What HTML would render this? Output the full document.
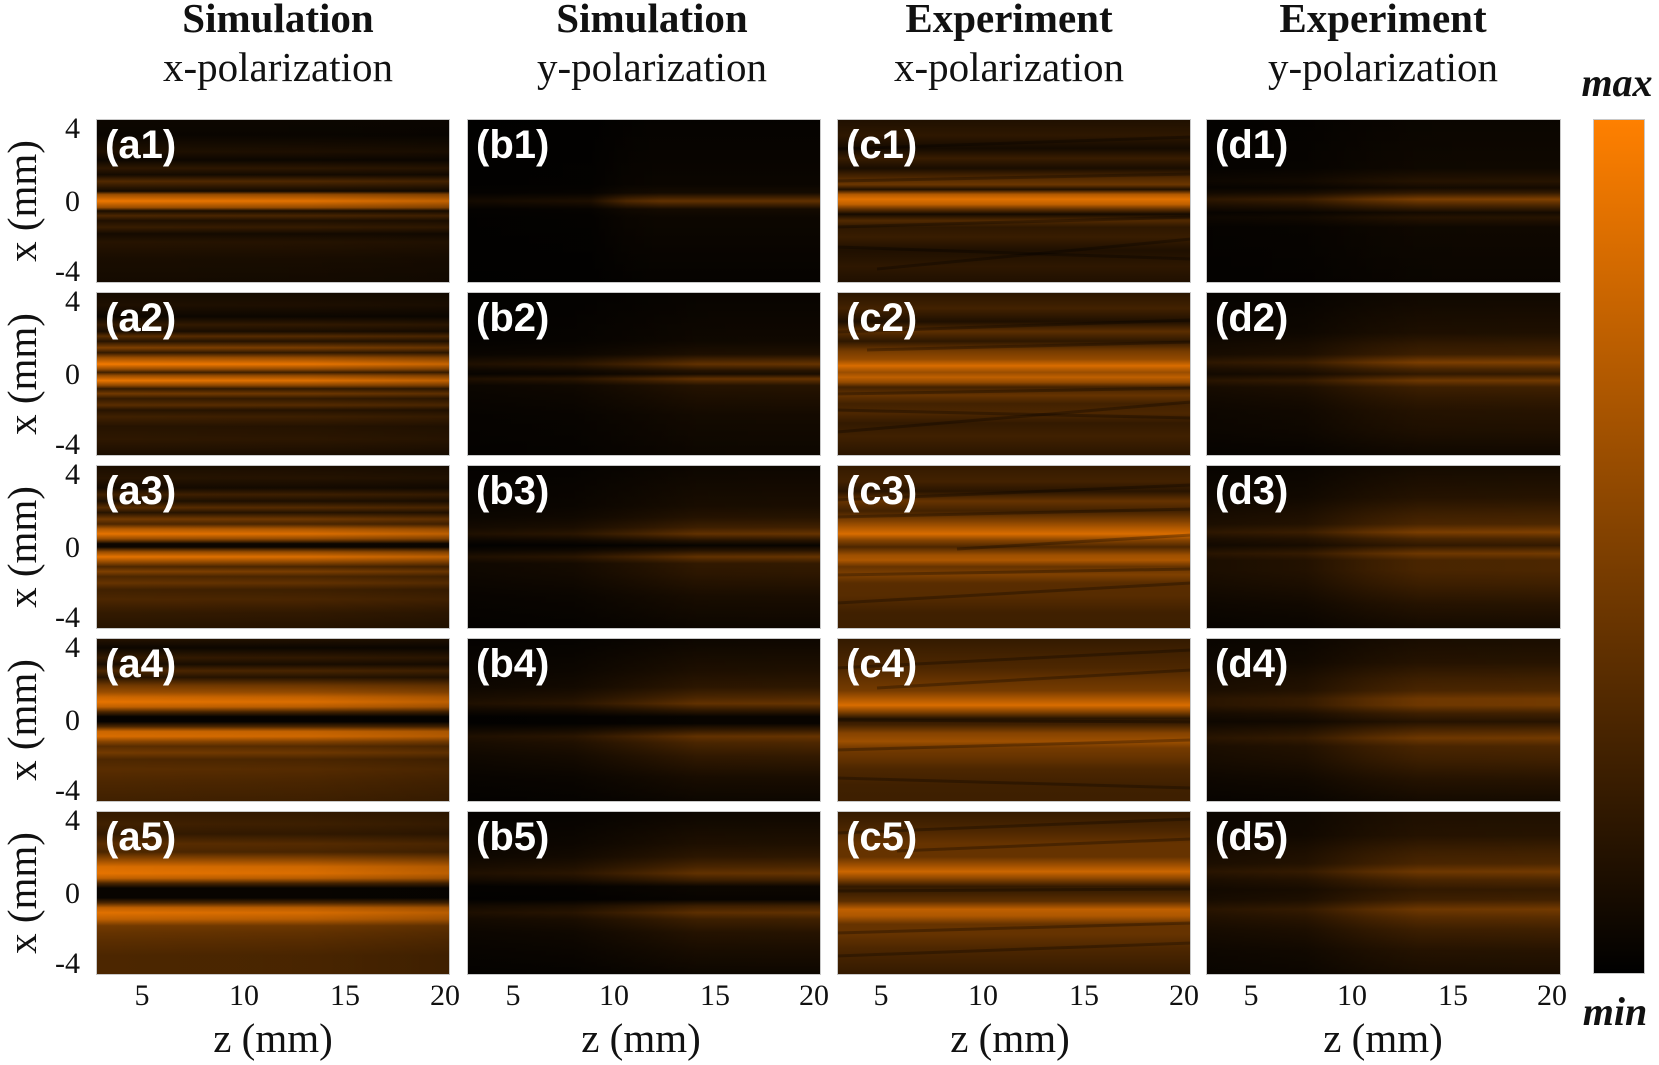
<!DOCTYPE html>
<html><head><meta charset="utf-8"><style>
html,body{margin:0;padding:0;background:#fff;}
svg{display:block;}
stop{stop-color:#ff8000}
.k stop{stop-color:#000}
.tb{font-family:"Liberation Serif",serif;font-weight:bold;font-size:41px;text-anchor:middle;fill:#111}
.tr{font-family:"Liberation Serif",serif;font-size:41px;text-anchor:middle;fill:#111}
.yl{font-family:"Liberation Serif",serif;font-size:41px;text-anchor:middle;fill:#111}
.tk{font-family:"Liberation Serif",serif;font-size:30px;fill:#111}
.te{text-anchor:end}
.tm{text-anchor:middle}
.pl{font-family:"Liberation Sans",sans-serif;font-weight:bold;font-size:40px;fill:#fff}
.mm{font-family:"Liberation Serif",serif;font-weight:bold;font-style:italic;font-size:40px;text-anchor:middle;fill:#111}
.st line{stroke:#000;stroke-opacity:.28;stroke-width:3}
</style></head><body>
<svg width="1659" height="1065" viewBox="0 0 1659 1065" xmlns="http://www.w3.org/2000/svg">
<defs>
<linearGradient id="a1" x1="0" y1="0" x2="0" y2="1">
<stop offset="0" stop-opacity=".05"/><stop offset=".1" stop-opacity=".04"/><stop offset=".2" stop-opacity=".12"/><stop offset=".25" stop-opacity=".05"/><stop offset=".3" stop-opacity=".18"/><stop offset=".34" stop-opacity=".08"/><stop offset=".38" stop-opacity=".32"/><stop offset=".42" stop-opacity=".15"/><stop offset=".44" stop-opacity=".08"/><stop offset=".46" stop-opacity=".6"/><stop offset=".5" stop-opacity=".93"/><stop offset=".54" stop-opacity=".6"/><stop offset=".56" stop-opacity=".1"/><stop offset=".59" stop-opacity=".3"/><stop offset=".62" stop-opacity=".12"/><stop offset=".66" stop-opacity=".22"/><stop offset=".7" stop-opacity=".08"/><stop offset=".75" stop-opacity=".15"/><stop offset=".85" stop-opacity=".1"/><stop offset="1" stop-opacity=".08"/>
</linearGradient>
<linearGradient id="a2" x1="0" y1="0" x2="0" y2="1">
<stop offset="0" stop-opacity=".08"/><stop offset=".08" stop-opacity=".12"/><stop offset=".15" stop-opacity=".05"/><stop offset=".2" stop-opacity=".2"/><stop offset=".24" stop-opacity=".1"/><stop offset=".27" stop-opacity=".35"/><stop offset=".3" stop-opacity=".15"/><stop offset=".34" stop-opacity=".5"/><stop offset=".37" stop-opacity=".2"/><stop offset=".4" stop-opacity=".6"/><stop offset=".44" stop-opacity=".95"/><stop offset=".47" stop-opacity=".6"/><stop offset=".49" stop-opacity=".25"/><stop offset=".51" stop-opacity=".6"/><stop offset=".54" stop-opacity=".92"/><stop offset=".57" stop-opacity=".55"/><stop offset=".59" stop-opacity=".2"/><stop offset=".62" stop-opacity=".45"/><stop offset=".65" stop-opacity=".2"/><stop offset=".69" stop-opacity=".35"/><stop offset=".72" stop-opacity=".15"/><stop offset=".76" stop-opacity=".25"/><stop offset=".82" stop-opacity=".15"/><stop offset=".9" stop-opacity=".18"/><stop offset="1" stop-opacity=".1"/>
</linearGradient>
<linearGradient id="a3" x1="0" y1="0" x2="0" y2="1">
<stop offset="0" stop-opacity=".1"/><stop offset=".08" stop-opacity=".15"/><stop offset=".14" stop-opacity=".08"/><stop offset=".18" stop-opacity=".25"/><stop offset=".22" stop-opacity=".12"/><stop offset=".26" stop-opacity=".35"/><stop offset=".29" stop-opacity=".15"/><stop offset=".33" stop-opacity=".45"/><stop offset=".36" stop-opacity=".3"/><stop offset=".39" stop-opacity=".7"/><stop offset=".42" stop-opacity=".9"/><stop offset=".45" stop-opacity=".6"/><stop offset=".48" stop-opacity=".05"/><stop offset=".5" stop-opacity=".05"/><stop offset=".53" stop-opacity=".6"/><stop offset=".56" stop-opacity=".9"/><stop offset=".59" stop-opacity=".6"/><stop offset=".62" stop-opacity=".3"/><stop offset=".65" stop-opacity=".5"/><stop offset=".68" stop-opacity=".3"/><stop offset=".72" stop-opacity=".4"/><stop offset=".76" stop-opacity=".25"/><stop offset=".82" stop-opacity=".3"/><stop offset=".9" stop-opacity=".2"/><stop offset="1" stop-opacity=".15"/>
</linearGradient>
<linearGradient id="a4" x1="0" y1="0" x2="0" y2="1">
<stop offset="0" stop-opacity=".15"/><stop offset=".06" stop-opacity=".05"/><stop offset=".12" stop-opacity=".2"/><stop offset=".16" stop-opacity=".1"/><stop offset=".2" stop-opacity=".3"/><stop offset=".24" stop-opacity=".15"/><stop offset=".29" stop-opacity=".45"/><stop offset=".33" stop-opacity=".6"/><stop offset=".36" stop-opacity=".8"/><stop offset=".39" stop-opacity=".9"/><stop offset=".42" stop-opacity=".75"/><stop offset=".45" stop-opacity=".3"/><stop offset=".48" stop-opacity=".02"/><stop offset=".51" stop-opacity=".02"/><stop offset=".54" stop-opacity=".3"/><stop offset=".57" stop-opacity=".8"/><stop offset=".6" stop-opacity=".85"/><stop offset=".63" stop-opacity=".55"/><stop offset=".66" stop-opacity=".35"/><stop offset=".7" stop-opacity=".45"/><stop offset=".74" stop-opacity=".3"/><stop offset=".8" stop-opacity=".35"/><stop offset=".88" stop-opacity=".3"/><stop offset="1" stop-opacity=".25"/>
</linearGradient>
<linearGradient id="a5" x1="0" y1="0" x2="0" y2="1">
<stop offset="0" stop-opacity=".2"/><stop offset=".08" stop-opacity=".25"/><stop offset=".14" stop-opacity=".2"/><stop offset=".2" stop-opacity=".35"/><stop offset=".25" stop-opacity=".3"/><stop offset=".3" stop-opacity=".6"/><stop offset=".34" stop-opacity=".85"/><stop offset=".38" stop-opacity=".9"/><stop offset=".41" stop-opacity=".75"/><stop offset=".44" stop-opacity=".3"/><stop offset=".47" stop-opacity=".03"/><stop offset=".53" stop-opacity=".03"/><stop offset=".56" stop-opacity=".3"/><stop offset=".59" stop-opacity=".75"/><stop offset=".62" stop-opacity=".88"/><stop offset=".66" stop-opacity=".75"/><stop offset=".7" stop-opacity=".45"/><stop offset=".74" stop-opacity=".4"/><stop offset=".8" stop-opacity=".35"/><stop offset=".88" stop-opacity=".3"/><stop offset="1" stop-opacity=".3"/>
</linearGradient>
<linearGradient id="b1" x1="0" y1="0" x2="0" y2="1">
<stop offset="0" stop-opacity=".02"/><stop offset=".4" stop-opacity=".04"/><stop offset=".45" stop-opacity=".08"/><stop offset=".5" stop-opacity=".38"/><stop offset=".55" stop-opacity=".08"/><stop offset=".6" stop-opacity=".05"/><stop offset="1" stop-opacity=".02"/>
</linearGradient>
<linearGradient id="b2" x1="0" y1="0" x2="0" y2="1">
<stop offset="0" stop-opacity=".03"/><stop offset=".3" stop-opacity=".06"/><stop offset=".38" stop-opacity=".12"/><stop offset=".44" stop-opacity=".4"/><stop offset=".48" stop-opacity=".15"/><stop offset=".5" stop-opacity=".1"/><stop offset=".53" stop-opacity=".4"/><stop offset=".57" stop-opacity=".15"/><stop offset=".64" stop-opacity=".12"/><stop offset=".75" stop-opacity=".08"/><stop offset="1" stop-opacity=".05"/>
</linearGradient>
<linearGradient id="b3" x1="0" y1="0" x2="0" y2="1">
<stop offset="0" stop-opacity=".05"/><stop offset=".25" stop-opacity=".1"/><stop offset=".32" stop-opacity=".15"/><stop offset=".38" stop-opacity=".25"/><stop offset=".42" stop-opacity=".4"/><stop offset=".46" stop-opacity=".15"/><stop offset=".49" stop-opacity=".03"/><stop offset=".52" stop-opacity=".15"/><stop offset=".56" stop-opacity=".4"/><stop offset=".6" stop-opacity=".2"/><stop offset=".66" stop-opacity=".18"/><stop offset=".8" stop-opacity=".1"/><stop offset="1" stop-opacity=".05"/>
</linearGradient>
<linearGradient id="b4" x1="0" y1="0" x2="0" y2="1">
<stop offset="0" stop-opacity=".05"/><stop offset=".2" stop-opacity=".12"/><stop offset=".3" stop-opacity=".18"/><stop offset=".36" stop-opacity=".3"/><stop offset=".4" stop-opacity=".4"/><stop offset=".44" stop-opacity=".2"/><stop offset=".48" stop-opacity=".03"/><stop offset=".52" stop-opacity=".03"/><stop offset=".56" stop-opacity=".2"/><stop offset=".6" stop-opacity=".4"/><stop offset=".64" stop-opacity=".3"/><stop offset=".72" stop-opacity=".2"/><stop offset=".85" stop-opacity=".1"/><stop offset="1" stop-opacity=".05"/>
</linearGradient>
<linearGradient id="b5" x1="0" y1="0" x2="0" y2="1">
<stop offset="0" stop-opacity=".05"/><stop offset=".2" stop-opacity=".12"/><stop offset=".28" stop-opacity=".18"/><stop offset=".34" stop-opacity=".3"/><stop offset=".38" stop-opacity=".4"/><stop offset=".42" stop-opacity=".25"/><stop offset=".46" stop-opacity=".05"/><stop offset=".54" stop-opacity=".03"/><stop offset=".58" stop-opacity=".25"/><stop offset=".62" stop-opacity=".38"/><stop offset=".66" stop-opacity=".25"/><stop offset=".74" stop-opacity=".15"/><stop offset=".85" stop-opacity=".1"/><stop offset="1" stop-opacity=".05"/>
</linearGradient>
<linearGradient id="c1" x1="0" y1="0" x2="0" y2="1">
<stop offset="0" stop-opacity=".12"/><stop offset=".1" stop-opacity=".18"/><stop offset=".18" stop-opacity=".08"/><stop offset=".24" stop-opacity=".22"/><stop offset=".3" stop-opacity=".1"/><stop offset=".36" stop-opacity=".32"/><stop offset=".4" stop-opacity=".42"/><stop offset=".43" stop-opacity=".12"/><stop offset=".46" stop-opacity=".7"/><stop offset=".49" stop-opacity=".88"/><stop offset=".52" stop-opacity=".75"/><stop offset=".55" stop-opacity=".38"/><stop offset=".58" stop-opacity=".08"/><stop offset=".62" stop-opacity=".32"/><stop offset=".66" stop-opacity=".18"/><stop offset=".72" stop-opacity=".22"/><stop offset=".8" stop-opacity=".12"/><stop offset=".9" stop-opacity=".18"/><stop offset="1" stop-opacity=".12"/>
</linearGradient>
<linearGradient id="c2" x1="0" y1="0" x2="0" y2="1">
<stop offset="0" stop-opacity=".16"/><stop offset=".1" stop-opacity=".26"/><stop offset=".18" stop-opacity=".12"/><stop offset=".24" stop-opacity=".36"/><stop offset=".3" stop-opacity=".18"/><stop offset=".36" stop-opacity=".46"/><stop offset=".41" stop-opacity=".58"/><stop offset=".45" stop-opacity=".85"/><stop offset=".49" stop-opacity=".6"/><stop offset=".52" stop-opacity=".75"/><stop offset=".55" stop-opacity=".58"/><stop offset=".58" stop-opacity=".26"/><stop offset=".63" stop-opacity=".4"/><stop offset=".68" stop-opacity=".26"/><stop offset=".74" stop-opacity=".3"/><stop offset=".8" stop-opacity=".2"/><stop offset=".88" stop-opacity=".25"/><stop offset="1" stop-opacity=".16"/>
</linearGradient>
<linearGradient id="c3" x1="0" y1="0" x2="0" y2="1">
<stop offset="0" stop-opacity=".2"/><stop offset=".1" stop-opacity=".26"/><stop offset=".16" stop-opacity=".16"/><stop offset=".22" stop-opacity=".4"/><stop offset=".28" stop-opacity=".26"/><stop offset=".34" stop-opacity=".5"/><stop offset=".38" stop-opacity=".68"/><stop offset=".42" stop-opacity=".85"/><stop offset=".46" stop-opacity=".52"/><stop offset=".5" stop-opacity=".3"/><stop offset=".55" stop-opacity=".62"/><stop offset=".58" stop-opacity=".68"/><stop offset=".62" stop-opacity=".4"/><stop offset=".67" stop-opacity=".5"/><stop offset=".72" stop-opacity=".35"/><stop offset=".8" stop-opacity=".34"/><stop offset=".9" stop-opacity=".25"/><stop offset="1" stop-opacity=".24"/>
</linearGradient>
<linearGradient id="c4" x1="0" y1="0" x2="0" y2="1">
<stop offset="0" stop-opacity=".2"/><stop offset=".1" stop-opacity=".26"/><stop offset=".18" stop-opacity=".3"/><stop offset=".26" stop-opacity=".4"/><stop offset=".32" stop-opacity=".46"/><stop offset=".37" stop-opacity=".68"/><stop offset=".41" stop-opacity=".85"/><stop offset=".45" stop-opacity=".52"/><stop offset=".49" stop-opacity=".16"/><stop offset=".53" stop-opacity=".26"/><stop offset=".58" stop-opacity=".52"/><stop offset=".63" stop-opacity=".62"/><stop offset=".67" stop-opacity=".46"/><stop offset=".73" stop-opacity=".4"/><stop offset=".8" stop-opacity=".3"/><stop offset=".9" stop-opacity=".25"/><stop offset="1" stop-opacity=".24"/>
</linearGradient>
<linearGradient id="c5" x1="0" y1="0" x2="0" y2="1">
<stop offset="0" stop-opacity=".2"/><stop offset=".12" stop-opacity=".3"/><stop offset=".2" stop-opacity=".4"/><stop offset=".28" stop-opacity=".4"/><stop offset=".33" stop-opacity=".62"/><stop offset=".37" stop-opacity=".8"/><stop offset=".41" stop-opacity=".56"/><stop offset=".46" stop-opacity=".2"/><stop offset=".5" stop-opacity=".25"/><stop offset=".55" stop-opacity=".36"/><stop offset=".6" stop-opacity=".75"/><stop offset=".64" stop-opacity=".68"/><stop offset=".69" stop-opacity=".4"/><stop offset=".75" stop-opacity=".4"/><stop offset=".84" stop-opacity=".3"/><stop offset=".92" stop-opacity=".25"/><stop offset="1" stop-opacity=".2"/>
</linearGradient>
<linearGradient id="d1" x1="0" y1="0" x2="0" y2="1">
<stop offset="0" stop-opacity=".04"/><stop offset=".3" stop-opacity=".06"/><stop offset=".38" stop-opacity=".15"/><stop offset=".42" stop-opacity=".08"/><stop offset=".45" stop-opacity=".2"/><stop offset=".49" stop-opacity=".5"/><stop offset=".53" stop-opacity=".28"/><stop offset=".57" stop-opacity=".08"/><stop offset=".6" stop-opacity=".15"/><stop offset=".66" stop-opacity=".06"/><stop offset="1" stop-opacity=".04"/>
</linearGradient>
<linearGradient id="d2" x1="0" y1="0" x2="0" y2="1">
<stop offset="0" stop-opacity=".06"/><stop offset=".25" stop-opacity=".12"/><stop offset=".32" stop-opacity=".2"/><stop offset=".38" stop-opacity=".25"/><stop offset=".43" stop-opacity=".5"/><stop offset=".47" stop-opacity=".3"/><stop offset=".5" stop-opacity=".2"/><stop offset=".54" stop-opacity=".45"/><stop offset=".58" stop-opacity=".25"/><stop offset=".64" stop-opacity=".2"/><stop offset=".72" stop-opacity=".15"/><stop offset=".85" stop-opacity=".12"/><stop offset="1" stop-opacity=".06"/>
</linearGradient>
<linearGradient id="d3" x1="0" y1="0" x2="0" y2="1">
<stop offset="0" stop-opacity=".08"/><stop offset=".2" stop-opacity=".15"/><stop offset=".3" stop-opacity=".25"/><stop offset=".36" stop-opacity=".3"/><stop offset=".41" stop-opacity=".5"/><stop offset=".45" stop-opacity=".3"/><stop offset=".49" stop-opacity=".2"/><stop offset=".54" stop-opacity=".45"/><stop offset=".58" stop-opacity=".3"/><stop offset=".64" stop-opacity=".3"/><stop offset=".72" stop-opacity=".25"/><stop offset=".85" stop-opacity=".15"/><stop offset="1" stop-opacity=".08"/>
</linearGradient>
<linearGradient id="d4" x1="0" y1="0" x2="0" y2="1">
<stop offset="0" stop-opacity=".1"/><stop offset=".15" stop-opacity=".15"/><stop offset=".25" stop-opacity=".25"/><stop offset=".32" stop-opacity=".3"/><stop offset=".37" stop-opacity=".45"/><stop offset=".41" stop-opacity=".45"/><stop offset=".46" stop-opacity=".25"/><stop offset=".51" stop-opacity=".15"/><stop offset=".56" stop-opacity=".3"/><stop offset=".61" stop-opacity=".45"/><stop offset=".66" stop-opacity=".3"/><stop offset=".74" stop-opacity=".25"/><stop offset=".86" stop-opacity=".15"/><stop offset="1" stop-opacity=".08"/>
</linearGradient>
<linearGradient id="d5" x1="0" y1="0" x2="0" y2="1">
<stop offset="0" stop-opacity=".12"/><stop offset=".15" stop-opacity=".15"/><stop offset=".25" stop-opacity=".25"/><stop offset=".32" stop-opacity=".3"/><stop offset=".37" stop-opacity=".45"/><stop offset=".42" stop-opacity=".3"/><stop offset=".48" stop-opacity=".2"/><stop offset=".54" stop-opacity=".25"/><stop offset=".6" stop-opacity=".45"/><stop offset=".65" stop-opacity=".35"/><stop offset=".72" stop-opacity=".25"/><stop offset=".85" stop-opacity=".15"/><stop offset="1" stop-opacity=".1"/>
</linearGradient>
<linearGradient id="hA" class="k" x1="0" y1="0" x2="1" y2="0">
<stop offset="0" stop-opacity="0"/><stop offset=".6" stop-opacity=".05"/><stop offset="1" stop-opacity=".18"/>
</linearGradient>
<linearGradient id="hB1" class="k" x1="0" y1="0" x2="1" y2="0">
<stop offset="0" stop-opacity=".8"/><stop offset=".35" stop-opacity=".7"/><stop offset=".45" stop-opacity=".2"/><stop offset=".55" stop-opacity="0"/><stop offset="1" stop-opacity="0"/>
</linearGradient>
<linearGradient id="hB" class="k" x1="0" y1="0" x2="1" y2="0">
<stop offset="0" stop-opacity=".7"/><stop offset=".3" stop-opacity=".6"/><stop offset=".5" stop-opacity=".3"/><stop offset=".65" stop-opacity=".05"/><stop offset="1" stop-opacity="0"/>
</linearGradient>
<linearGradient id="hD" class="k" x1="0" y1="0" x2="1" y2="0">
<stop offset="0" stop-opacity=".65"/><stop offset=".28" stop-opacity=".55"/><stop offset=".45" stop-opacity=".25"/><stop offset=".6" stop-opacity=".05"/><stop offset="1" stop-opacity="0"/>
</linearGradient>
<linearGradient id="cb" x1="0" y1="0" x2="0" y2="1">
<stop offset="0" stop-opacity="1"/><stop offset="1" stop-opacity="0"/>
</linearGradient>
<clipPath id="pc"><rect width="354" height="164"/></clipPath>
</defs>

<rect width="1659" height="1065" fill="#fff"/>

<text class="tb" x="278" y="32">Simulation</text>
<text class="tr" x="278" y="81">x-polarization</text>
<text class="tb" x="652" y="32">Simulation</text>
<text class="tr" x="652" y="81">y-polarization</text>
<text class="tb" x="1009" y="32">Experiment</text>
<text class="tr" x="1009" y="81">x-polarization</text>
<text class="tb" x="1383" y="32">Experiment</text>
<text class="tr" x="1383" y="81">y-polarization</text>

<!-- Column A -->
<g transform="translate(96,119)"><rect width="354" height="164" fill="#000"/><rect width="354" height="164" fill="url(#a1)"/><rect width="354" height="164" fill="url(#hA)"/><rect x=".5" y=".5" width="353" height="163" fill="none" stroke="#c8c8c8"/><text class="pl" x="9" y="39">(a1)</text></g>
<g transform="translate(96,292)"><rect width="354" height="164" fill="#000"/><rect width="354" height="164" fill="url(#a2)"/><rect width="354" height="164" fill="url(#hA)"/><rect x=".5" y=".5" width="353" height="163" fill="none" stroke="#c8c8c8"/><text class="pl" x="9" y="39">(a2)</text></g>
<g transform="translate(96,465)"><rect width="354" height="164" fill="#000"/><rect width="354" height="164" fill="url(#a3)"/><rect width="354" height="164" fill="url(#hA)"/><rect x=".5" y=".5" width="353" height="163" fill="none" stroke="#c8c8c8"/><text class="pl" x="9" y="39">(a3)</text></g>
<g transform="translate(96,638)"><rect width="354" height="164" fill="#000"/><rect width="354" height="164" fill="url(#a4)"/><rect width="354" height="164" fill="url(#hA)"/><rect x=".5" y=".5" width="353" height="163" fill="none" stroke="#c8c8c8"/><text class="pl" x="9" y="39">(a4)</text></g>
<g transform="translate(96,811)"><rect width="354" height="164" fill="#000"/><rect width="354" height="164" fill="url(#a5)"/><rect width="354" height="164" fill="url(#hA)"/><rect x=".5" y=".5" width="353" height="163" fill="none" stroke="#c8c8c8"/><text class="pl" x="9" y="39">(a5)</text></g>

<!-- Column B -->
<g transform="translate(467,119)"><rect width="354" height="164" fill="#000"/><rect width="354" height="164" fill="url(#b1)"/><rect width="354" height="164" fill="url(#hB1)"/><rect x=".5" y=".5" width="353" height="163" fill="none" stroke="#c8c8c8"/><text class="pl" x="9" y="39">(b1)</text></g>
<g transform="translate(467,292)"><rect width="354" height="164" fill="#000"/><rect width="354" height="164" fill="url(#b2)"/><rect width="354" height="164" fill="url(#hB)"/><rect x=".5" y=".5" width="353" height="163" fill="none" stroke="#c8c8c8"/><text class="pl" x="9" y="39">(b2)</text></g>
<g transform="translate(467,465)"><rect width="354" height="164" fill="#000"/><rect width="354" height="164" fill="url(#b3)"/><rect width="354" height="164" fill="url(#hB)"/><rect x=".5" y=".5" width="353" height="163" fill="none" stroke="#c8c8c8"/><text class="pl" x="9" y="39">(b3)</text></g>
<g transform="translate(467,638)"><rect width="354" height="164" fill="#000"/><rect width="354" height="164" fill="url(#b4)"/><rect width="354" height="164" fill="url(#hB)"/><rect x=".5" y=".5" width="353" height="163" fill="none" stroke="#c8c8c8"/><text class="pl" x="9" y="39">(b4)</text></g>
<g transform="translate(467,811)"><rect width="354" height="164" fill="#000"/><rect width="354" height="164" fill="url(#b5)"/><rect width="354" height="164" fill="url(#hB)"/><rect x=".5" y=".5" width="353" height="163" fill="none" stroke="#c8c8c8"/><text class="pl" x="9" y="39">(b5)</text></g>

<!-- Column C -->
<g transform="translate(837,119)"><rect width="354" height="164" fill="#000"/><rect width="354" height="164" fill="url(#c1)"/>
<g class="st" clip-path="url(#pc)"><line x1="0" y1="30" x2="354" y2="18"/><line x1="0" y1="62" x2="354" y2="55"/><line x1="0" y1="108" x2="354" y2="98"/><line x1="0" y1="128" x2="354" y2="140"/><line x1="40" y1="150" x2="354" y2="120"/></g>
<rect x=".5" y=".5" width="353" height="163" fill="none" stroke="#c8c8c8"/><text class="pl" x="9" y="39">(c1)</text></g>
<g transform="translate(837,292)"><rect width="354" height="164" fill="#000"/><rect width="354" height="164" fill="url(#c2)"/>
<g class="st" clip-path="url(#pc)"><line x1="0" y1="40" x2="354" y2="28"/><line x1="30" y1="58" x2="354" y2="50"/><line x1="0" y1="102" x2="354" y2="96"/><line x1="0" y1="118" x2="354" y2="126"/><line x1="0" y1="140" x2="354" y2="110"/></g>
<rect x=".5" y=".5" width="353" height="163" fill="none" stroke="#c8c8c8"/><text class="pl" x="9" y="39">(c2)</text></g>
<g transform="translate(837,465)"><rect width="354" height="164" fill="#000"/><rect width="354" height="164" fill="url(#c3)"/>
<g class="st" clip-path="url(#pc)"><line x1="0" y1="35" x2="354" y2="20"/><line x1="0" y1="52" x2="354" y2="44"/><line x1="120" y1="84" x2="354" y2="70"/><line x1="0" y1="110" x2="354" y2="104"/><line x1="0" y1="138" x2="354" y2="118"/></g>
<rect x=".5" y=".5" width="353" height="163" fill="none" stroke="#c8c8c8"/><text class="pl" x="9" y="39">(c3)</text></g>
<g transform="translate(837,638)"><rect width="354" height="164" fill="#000"/><rect width="354" height="164" fill="url(#c4)"/>
<g class="st" clip-path="url(#pc)"><line x1="0" y1="30" x2="354" y2="12"/><line x1="40" y1="50" x2="354" y2="32"/><line x1="0" y1="82" x2="354" y2="84"/><line x1="0" y1="112" x2="354" y2="102"/><line x1="0" y1="140" x2="354" y2="150"/></g>
<rect x=".5" y=".5" width="353" height="163" fill="none" stroke="#c8c8c8"/><text class="pl" x="9" y="39">(c4)</text></g>
<g transform="translate(837,811)"><rect width="354" height="164" fill="#000"/><rect width="354" height="164" fill="url(#c5)"/>
<g class="st" clip-path="url(#pc)"><line x1="0" y1="22" x2="354" y2="8"/><line x1="60" y1="40" x2="354" y2="28"/><line x1="0" y1="80" x2="354" y2="78"/><line x1="0" y1="122" x2="354" y2="112"/><line x1="0" y1="145" x2="354" y2="132"/></g>
<rect x=".5" y=".5" width="353" height="163" fill="none" stroke="#c8c8c8"/><text class="pl" x="9" y="39">(c5)</text></g>

<!-- Column D -->
<g transform="translate(1206,119)"><rect width="355" height="164" fill="#000"/><rect width="355" height="164" fill="url(#d1)"/><rect width="355" height="164" fill="url(#hD)"/><rect x=".5" y=".5" width="354" height="163" fill="none" stroke="#c8c8c8"/><text class="pl" x="9" y="39">(d1)</text></g>
<g transform="translate(1206,292)"><rect width="355" height="164" fill="#000"/><rect width="355" height="164" fill="url(#d2)"/><rect width="355" height="164" fill="url(#hD)"/><rect x=".5" y=".5" width="354" height="163" fill="none" stroke="#c8c8c8"/><text class="pl" x="9" y="39">(d2)</text></g>
<g transform="translate(1206,465)"><rect width="355" height="164" fill="#000"/><rect width="355" height="164" fill="url(#d3)"/><rect width="355" height="164" fill="url(#hD)"/><rect x=".5" y=".5" width="354" height="163" fill="none" stroke="#c8c8c8"/><text class="pl" x="9" y="39">(d3)</text></g>
<g transform="translate(1206,638)"><rect width="355" height="164" fill="#000"/><rect width="355" height="164" fill="url(#d4)"/><rect width="355" height="164" fill="url(#hD)"/><rect x=".5" y=".5" width="354" height="163" fill="none" stroke="#c8c8c8"/><text class="pl" x="9" y="39">(d4)</text></g>
<g transform="translate(1206,811)"><rect width="355" height="164" fill="#000"/><rect width="355" height="164" fill="url(#d5)"/><rect width="355" height="164" fill="url(#hD)"/><rect x=".5" y=".5" width="354" height="163" fill="none" stroke="#c8c8c8"/><text class="pl" x="9" y="39">(d5)</text></g>

<g>
<text class="yl" transform="translate(22,201) rotate(-90)" dominant-baseline="central">x (mm)</text>
<text class="yl" transform="translate(22,374) rotate(-90)" dominant-baseline="central">x (mm)</text>
<text class="yl" transform="translate(22,547) rotate(-90)" dominant-baseline="central">x (mm)</text>
<text class="yl" transform="translate(22,720) rotate(-90)" dominant-baseline="central">x (mm)</text>
<text class="yl" transform="translate(22,893) rotate(-90)" dominant-baseline="central">x (mm)</text>
</g>
<g>
<text class="tk te" x="80" y="138">4</text><text class="tk te" x="80" y="211">0</text><text class="tk te" x="80" y="281">-4</text>
<text class="tk te" x="80" y="311">4</text><text class="tk te" x="80" y="384">0</text><text class="tk te" x="80" y="454">-4</text>
<text class="tk te" x="80" y="484">4</text><text class="tk te" x="80" y="557">0</text><text class="tk te" x="80" y="627">-4</text>
<text class="tk te" x="80" y="657">4</text><text class="tk te" x="80" y="730">0</text><text class="tk te" x="80" y="800">-4</text>
<text class="tk te" x="80" y="830">4</text><text class="tk te" x="80" y="903">0</text><text class="tk te" x="80" y="973">-4</text>
</g>

<text class="tk tm" x="142" y="1005">5</text><text class="tk tm" x="244" y="1005">10</text><text class="tk tm" x="345" y="1005">15</text><text class="tk tm" x="445" y="1005">20</text>
<text class="tk tm" x="513" y="1005">5</text><text class="tk tm" x="614" y="1005">10</text><text class="tk tm" x="715" y="1005">15</text><text class="tk tm" x="814" y="1005">20</text>
<text class="tk tm" x="881" y="1005">5</text><text class="tk tm" x="983" y="1005">10</text><text class="tk tm" x="1084" y="1005">15</text><text class="tk tm" x="1184" y="1005">20</text>
<text class="tk tm" x="1251" y="1005">5</text><text class="tk tm" x="1352" y="1005">10</text><text class="tk tm" x="1453" y="1005">15</text><text class="tk tm" x="1552" y="1005">20</text>

<text class="yl" x="273" y="1052">z (mm)</text>
<text class="yl" x="641" y="1052">z (mm)</text>
<text class="yl" x="1010" y="1052">z (mm)</text>
<text class="yl" x="1383" y="1052">z (mm)</text>

<rect x="1593" y="119" width="52" height="855" fill="#000"/>
<rect x="1593" y="119" width="52" height="855" fill="url(#cb)"/>
<rect x="1593.5" y="119.5" width="51" height="854" fill="none" stroke="#c8c8c8"/>
<text class="mm" x="1617" y="96">max</text>
<text class="mm" x="1615" y="1025">min</text>
</svg>
</body></html>
